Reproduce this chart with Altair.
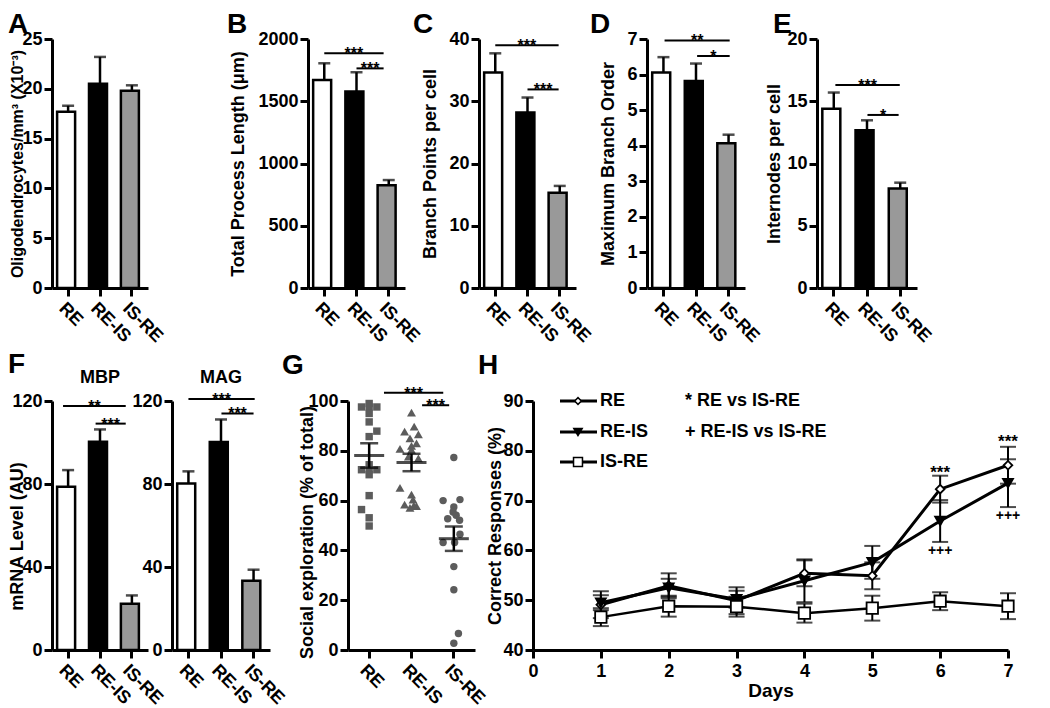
import altair as alt
import pandas as pd

FONT = "Liberation Sans"
groups = ["RE", "RE-IS", "IS-RE"]
bar_fills = ["#ffffff", "#000000", "#999999"]
dot_gray = "#5c5c5c"
letters = ["A", "B", "C", "D", "E", "F", "G", "H"]

# ---------------- bar panels: mean and upper error (SEM) ----------------
a_mean = [17.7, 20.5, 19.8]
a_err = [0.6, 2.7, 0.55]
b_mean = [1670, 1578, 825]
b_err = [135, 155, 42]
c_mean = [34.6, 28.2, 15.3]
c_err = [3.1, 2.4, 1.1]
d_mean = [6.06, 5.82, 4.07]
d_err = [0.43, 0.49, 0.24]
e_mean = [14.4, 12.67, 8.0]
e_err = [1.3, 0.8, 0.46]
mbp_mean = [78.7, 100.4, 22.3]
mbp_err = [8.0, 5.9, 4.0]
mag_mean = [80.2, 100.3, 33.4]
mag_err = [5.9, 10.8, 5.3]

# significance bars (1st: RE -> IS-RE, 2nd: RE-IS -> IS-RE)
sig_from = ["RE", "RE-IS"]
sig_to = ["IS-RE", "IS-RE"]
b_sig_y = [1885, 1764]
b_sig = ["***", "***"]
c_sig_y = [39.0, 31.9]
c_sig = ["***", "***"]
d_sig_y = [6.96, 6.52]
d_sig = ["**", "*"]
e_sig_y = [16.3, 13.9]
e_sig = ["***", "*"]
mbp_sig_y = [117.6, 109.1]
mbp_sig = ["**", "***"]
mag_sig_y = [121.0, 114.0]
mag_sig = ["***", "***"]
g_sig_y = [103.3, 98.3]
g_sig = ["***", "***"]

# ---------------- G: individual animals (value, horizontal jitter slot) ----------------
g_re_vals = [99.0, 97.6, 97.6, 97.6, 95.0, 91.6, 87.9, 85.7, 74.4, 72.4, 72.4, 72.4,
             70.4, 62.0, 56.4, 53.1, 49.8]
g_re_jit = [0, -1, 0, 1, 0, 0, 1, 0, 0, -1, 0, 1, 0, 0, -1, 0, 0]
g_reis_vals = [95.3, 89.7, 87.7, 86.6, 85.0, 83.0, 82.0, 80.8, 80.4, 77.7, 77.0,
               65.1, 62.4, 60.4, 58.4, 57.8, 57.1, 58.0]
g_reis_jit = [0, 0.35, -0.9, 0.9, -0.2, 0.65, 0, -1.5, 0, -0.4, 0.9,
              -1.5, 0, 0.2, -0.9, 0.65, -0.2, 0.3]
g_isre_vals = [77.3, 60.0, 60.4, 57.4, 55.4, 54.1, 52.7, 52.1, 46.5, 43.2, 43.2,
               33.5, 24.2, 6.6, 2.7]
g_isre_jit = [0, -1.4, 0.8, 0, -0.1, 0.3, -0.8, 0.75, 0.8, -1.4, 0.1, 0, 0, 0.6, 0]
g_mean = [78.1, 75.3, 44.7]
g_sem = [4.9, 3.5, 4.9]

# ---------------- H: learning curves ----------------
days = [1, 2, 3, 4, 5, 6, 7]
series = ["RE", "RE-IS", "IS-RE"]
re_mean = [49.1, 52.9, 49.9, 55.4, 54.9, 72.3, 77.1]
re_err = [2.7, 2.5, 2.7, 2.6, 2.7, 2.7, 3.7]
reis_mean = [49.5, 52.5, 50.2, 53.9, 57.6, 65.9, 73.5]
reis_err = [1.5, 1.8, 1.7, 4.3, 3.3, 4.2, 4.8]
isre_mean = [46.6, 48.8, 48.7, 47.4, 48.4, 49.8, 48.8]
isre_err = [1.8, 2.1, 2.0, 1.9, 2.5, 1.8, 2.6]
h_star_day = [6, 7]
h_star_y = [76.6, 82.8]
h_star_lab = ["***", "***"]
h_plus_day = [6, 7]
h_plus_y = [60.1, 67.1]
h_plus_lab = ["+++", "+++"]
h_notes = ["* RE vs IS-RE", "+ RE-IS vs IS-RE"]

ROW_H = 249
PIN, POUT = 0.31, 0.16


def band_geom(width, pin, pout, n=3):
    step = width / (n - pin + 2 * pout)
    return step, step * (1 - pin)


def letter_layer(letter, dx, dy):
    return alt.Chart(alt.Data(values=[{"t": letter}])).mark_text(
        font=FONT, fontSize=28, fontWeight="bold", align="left",
        baseline="alphabetic", color="black").encode(
        x=alt.value(dx), y=alt.value(dy), text="t:N")


def sub_layer(txt, x, dy):
    return alt.Chart(alt.Data(values=[{"t": txt}])).mark_text(
        font=FONT, fontSize=18, fontWeight="bold", align="center",
        baseline="alphabetic", color="black").encode(
        x=alt.value(x), y=alt.value(dy), text="t:N")


def sig_layers(xsc, xax, ysc, yax, width, pin, pout, ys, labs, bp1, bp2, fsize=16):
    step, bw = band_geom(width, pin, pout)
    out = []
    for i in range(2):
        d = pd.DataFrame({"g1": [sig_from[i]], "g2": [sig_to[i]],
                          "y": [ys[i]], "lab": [labs[i]]})
        k = groups.index(sig_to[i]) - groups.index(sig_from[i])
        p1 = bp1[i] * bw
        p2 = k * step + bp2[i] * bw
        c = alt.Chart(d)
        out.append(c.mark_rule(color="black", strokeWidth=2).encode(
            x=alt.X("g1:N", scale=xsc, sort=groups, axis=xax, bandPosition=bp1[i]),
            x2=alt.X2("g2:N", bandPosition=bp2[i]),
            y=alt.Y("y:Q", scale=ysc, axis=yax)))
        out.append(c.mark_text(font=FONT, fontSize=fsize, fontWeight="bold",
                               color="black", baseline="alphabetic",
                               dx=(p2 - p1) / 2, dy=6).encode(
            x=alt.X("g1:N", scale=xsc, sort=groups, axis=xax, bandPosition=bp1[i]),
            y=alt.Y("y:Q", scale=ysc, axis=yax), text="lab:N"))
    return out


def x_axis():
    return alt.Axis(title=None, labelAngle=45, labelAlign="left",
                    labelBaseline="top", labelPadding=3)


def y_axis(yticks, ytitle, title_x, title_y=ROW_H / 2, title_size=18):
    if ytitle is None:
        return alt.Axis(values=yticks, title=None, format="d")
    return alt.Axis(values=yticks, title=ytitle, titleX=title_x, titleY=title_y,
                    titleBaseline="middle", titleFontSize=title_size, format="d")


def bar_panel(mean, err, ymax, yticks, ytitle, title_x, width, letter, ldx, ldy,
              sig_y=None, sig_lab=None, bp1=(0.5, 0.5), bp2=(0.5, 0.5),
              sub=None, title_y=ROW_H / 2, title_size=18):
    df = pd.DataFrame({"group": groups, "mean": mean,
                       "top": [m + e for m, e in zip(mean, err)]})
    ysc = alt.Scale(domain=[0, ymax], nice=False)
    xsc = alt.Scale(domain=groups, paddingInner=PIN, paddingOuter=POUT)
    yax = y_axis(yticks, ytitle, title_x, title_y, title_size)
    xax = x_axis()
    base = alt.Chart(df)
    xe = alt.X("group:N", scale=xsc, sort=groups, axis=xax)
    bars = base.mark_bar(stroke="black", strokeWidth=2.5).encode(
        x=xe, y=alt.Y("mean:Q", scale=ysc, axis=yax),
        fill=alt.Fill("group:N", scale=alt.Scale(domain=groups, range=bar_fills), legend=None))
    errl = base.mark_rule(color="black", strokeWidth=2.5).encode(
        x=xe, y=alt.Y("mean:Q", scale=ysc, axis=yax), y2="top:Q")
    cap = base.mark_tick(orient="horizontal", color="black", size=12, thickness=2.5).encode(
        x=xe, y=alt.Y("top:Q", scale=ysc, axis=yax))
    layers = [errl, cap, bars]
    if sig_y is not None:
        layers += sig_layers(xsc, xax, ysc, yax, width, PIN, POUT, sig_y, sig_lab, bp1, bp2)
    if letter is not None:
        layers.append(letter_layer(letter, ldx, ldy))
    if sub is not None:
        layers.append(sub_layer(sub, width / 2, -18))
    return alt.layer(*layers).properties(width=width, height=ROW_H)


def spacer(w):
    return alt.Chart(alt.Data(values=[{"a": 0}])).mark_point(opacity=0).properties(
        width=w, height=ROW_H)


# ---------------- top row ----------------
pA = bar_panel(a_mean, a_err, 25, [0, 5, 10, 15, 20, 25],
               "Oligodendrocytes/mm³ (X10⁻³)", -35, 96, letters[0], -44, -6,
               title_size=16)
pB = bar_panel(b_mean, b_err, 2000, [0, 500, 1000, 1500, 2000],
               "Total Process Length (μm)", -70, 97, letters[1], -81, -6,
               b_sig_y, b_sig, bp1=(0.5, 0.5), bp2=(0.27, 0.27))
pC = bar_panel(c_mean, c_err, 40, [0, 10, 20, 30, 40],
               "Branch Points per cell", -49, 97, letters[2], -66, -6,
               c_sig_y, c_sig, bp1=(0.5, 0.5), bp2=(0.45, 0.45))
pD = bar_panel(d_mean, d_err, 7, [0, 1, 2, 3, 4, 5, 6, 7],
               "Maximum Branch Order", -39, 98, letters[3], -57, -6,
               d_sig_y, d_sig, bp1=(0.55, 0.55), bp2=(0.55, 0.55))
pE = bar_panel(e_mean, e_err, 20, [0, 5, 10, 15, 20],
               "Internodes per cell", -43, 100, letters[4], -44, -6,
               e_sig_y, e_sig, bp1=(0.57, 0.52), bp2=(0.48, 0.43))

# ---------------- F ----------------
pMBP = bar_panel(mbp_mean, mbp_err, 120, [0, 40, 80, 120], "mRNA Level (AU)", -35, 96,
                 letters[5], -44, -28, mbp_sig_y, mbp_sig, bp1=(0.27, 0.3),
                 bp2=(0.22, 0.22), sub="MBP", title_y=135)
pMAG = bar_panel(mag_mean, mag_err, 120, [0, 40, 80, 120], None, 0, 98,
                 None, 0, 0, mag_sig_y, mag_sig, bp1=(0.5, 0.52),
                 bp2=(0.55, 0.5), sub="MAG")

# ---------------- G ----------------
G_W = 127
g_xsc = alt.Scale(domain=groups, paddingInner=0, paddingOuter=0)
g_ysc = alt.Scale(domain=[0, 100], nice=False)
g_xax = x_axis()
g_yax = alt.Axis(values=[0, 20, 40, 60, 80, 100], title="Social exploration (% of total)",
                 titleX=-41, titleY=131, titleBaseline="middle")
g_bw = G_W / 3
g_xe = alt.X("group:N", scale=g_xsc, sort=groups, axis=g_xax)
g_shapes = ["square", "triangle-up", "circle"]
g_sizes = [55, 80, 55]
g_layers = []
for grp, vals, jit, shp, sz in zip(groups, [g_re_vals, g_reis_vals, g_isre_vals],
                                   [g_re_jit, g_reis_jit, g_isre_jit], g_shapes, g_sizes):
    d = pd.DataFrame({"group": [grp] * len(vals), "val": vals, "jit": jit})
    g_layers.append(alt.Chart(d).mark_point(filled=True, opacity=1, color=dot_gray,
                                            shape=shp, size=sz).encode(
        x=g_xe,
        xOffset=alt.XOffset("jit:Q", scale=alt.Scale(domain=[-1.5, 1.5],
                                                     range=[g_bw / 2 - 11.5, g_bw / 2 + 11.5])),
        y=alt.Y("val:Q", scale=g_ysc, axis=g_yax)))
gm_df = pd.DataFrame({"group": groups, "mean": g_mean,
                      "lo": [m - s for m, s in zip(g_mean, g_sem)],
                      "hi": [m + s for m, s in zip(g_mean, g_sem)]})
gm = alt.Chart(gm_df)
g_layers += [
    gm.mark_rule(color="black", strokeWidth=2.5).encode(
        x=g_xe, y=alt.Y("lo:Q", scale=g_ysc, axis=g_yax), y2="hi:Q"),
    gm.mark_tick(orient="horizontal", size=18, thickness=2.5, color="black").encode(
        x=g_xe, y=alt.Y("lo:Q", scale=g_ysc, axis=g_yax)),
    gm.mark_tick(orient="horizontal", size=18, thickness=2.5, color="black").encode(
        x=g_xe, y=alt.Y("hi:Q", scale=g_ysc, axis=g_yax)),
    gm.mark_tick(orient="horizontal", size=30, thickness=3, color="black").encode(
        x=g_xe, y=alt.Y("mean:Q", scale=g_ysc, axis=g_yax)),
]
g_layers += sig_layers(g_xsc, g_xax, g_ysc, g_yax, G_W, 0, 0, g_sig_y, g_sig,
                       (0.85, 0.75), (0.25, 0.39))
g_layers.append(letter_layer(letters[6], -66, -27))
pG = alt.layer(*g_layers).properties(width=G_W, height=ROW_H)

# ---------------- H ----------------
H_W = 475
h_xsc = alt.Scale(domain=[0, 7], nice=False)
h_ysc = alt.Scale(domain=[40, 90], nice=False)
h_xax = alt.Axis(values=list(range(8)), title="Days", labelFlush=False,
                 labelPadding=4, titlePadding=1, titleFontSize=19)
h_yax = alt.Axis(values=[40, 50, 60, 70, 80, 90], title="Correct Responses (%)",
                 titleX=-38, titleY=ROW_H / 2, titleBaseline="middle")
hx = alt.X("day:Q", scale=h_xsc, axis=h_xax)
h_shapes = ["diamond", "triangle-down", "square"]
h_fills = ["white", "black", "white"]
h_sizes = [75, 100, 130]
h_lw = [3, 3, 2.5]
h_line_layers, h_err_layers, h_pt_layers = [], [], []
for s, mm, ee, shp, fl, sz, lw in zip(series, [re_mean, reis_mean, isre_mean],
                                      [re_err, reis_err, isre_err],
                                      h_shapes, h_fills, h_sizes, h_lw):
    d = pd.DataFrame({"series": [s] * len(days), "day": days, "mean": mm,
                      "lo": [m - e for m, e in zip(mm, ee)],
                      "hi": [m + e for m, e in zip(mm, ee)]})
    c = alt.Chart(d)
    h_line_layers.append(c.mark_line(color="black", strokeWidth=lw).encode(
        x=hx, y=alt.Y("mean:Q", scale=h_ysc, axis=h_yax)))
    h_err_layers += [
        c.mark_rule(color="black", strokeWidth=2).encode(
            x=hx, y=alt.Y("lo:Q", scale=h_ysc, axis=h_yax), y2="hi:Q"),
        c.mark_tick(orient="horizontal", size=16, thickness=2, color="black").encode(
            x=hx, y=alt.Y("lo:Q", scale=h_ysc, axis=h_yax)),
        c.mark_tick(orient="horizontal", size=16, thickness=2, color="black").encode(
            x=hx, y=alt.Y("hi:Q", scale=h_ysc, axis=h_yax)),
    ]
    h_pt_layers.append(c.mark_point(filled=True, fill=fl, stroke="black", strokeWidth=1.8,
                                    opacity=1, shape=shp, size=sz).encode(
        x=hx, y=alt.Y("mean:Q", scale=h_ysc, axis=h_yax)))

star_df = pd.DataFrame({"day": h_star_day, "y": h_star_y, "lab": h_star_lab})
plus_df = pd.DataFrame({"day": h_plus_day, "y": h_plus_y, "lab": h_plus_lab})
h_stars = alt.Chart(star_df).mark_text(font=FONT, fontSize=17, fontWeight="bold",
                                       baseline="alphabetic", dy=10, color="black").encode(
    x=hx, y=alt.Y("y:Q", scale=h_ysc, axis=h_yax), text="lab:N")
h_plus = alt.Chart(plus_df).mark_text(font=FONT, fontSize=14, fontWeight="bold",
                                      baseline="alphabetic", dy=5, color="black").encode(
    x=hx, y=alt.Y("y:Q", scale=h_ysc, axis=h_yax), text="lab:N")

leg_layers = []
leg_y = [0, 31, 61]
leg_sizes = [45, 70, 80]
for i, s in enumerate(series):
    ld = alt.Chart(alt.Data(values=[{"s": s}]))
    leg_layers.append(ld.mark_rule(color="black", strokeWidth=3).encode(
        x=alt.value(27), x2=alt.value(64), y=alt.value(leg_y[i])))
    leg_layers.append(ld.mark_point(filled=True, stroke="black", strokeWidth=1.5, opacity=1,
                                    shape=h_shapes[i], fill=h_fills[i],
                                    size=leg_sizes[i]).encode(
        x=alt.value(45), y=alt.value(leg_y[i])))
    leg_layers.append(ld.mark_text(font=FONT, fontSize=18, fontWeight="bold", align="left",
                                   baseline="middle", color="black").encode(
        x=alt.value(67), y=alt.value(leg_y[i]), text="s:N"))
for i, note in enumerate(h_notes):
    nd = alt.Chart(alt.Data(values=[{"s": note}]))
    leg_layers.append(nd.mark_text(font=FONT, fontSize=18, fontWeight="bold", align="left",
                                   baseline="middle", color="black").encode(
        x=alt.value(152), y=alt.value(leg_y[i]), text="s:N"))

pH = alt.layer(
    *h_line_layers, *h_err_layers, *h_pt_layers, h_stars, h_plus, *leg_layers,
    letter_layer(letters[7], -55, -27),
).properties(width=H_W, height=ROW_H)

top = alt.hconcat(pA, spacer(160), pB, spacer(74), pC, spacer(71), pD, spacer(72), pE,
                  spacing=0, bounds="flush")
bottom = alt.hconcat(pMBP, spacer(24), pMAG, spacer(78), pG, spacer(58), pH,
                     spacing=0, bounds="flush")

chart = alt.vconcat(top, bottom, spacing=362, bounds="flush").properties(
    padding={"top": 3, "left": 0, "right": 0, "bottom": 0}).configure_axis(
    domainColor="black", domainWidth=3, tickColor="black", tickWidth=3, tickSize=8,
    grid=False, labelFont=FONT, labelFontSize=18, labelFontWeight="bold",
    labelColor="black", labelPadding=2, titleFont=FONT, titleFontSize=18,
    titleFontWeight="bold", titleColor="black",
).configure_view(stroke=None)

chart.save("out.html", embed_options={"renderer": "svg", "actions": False})
